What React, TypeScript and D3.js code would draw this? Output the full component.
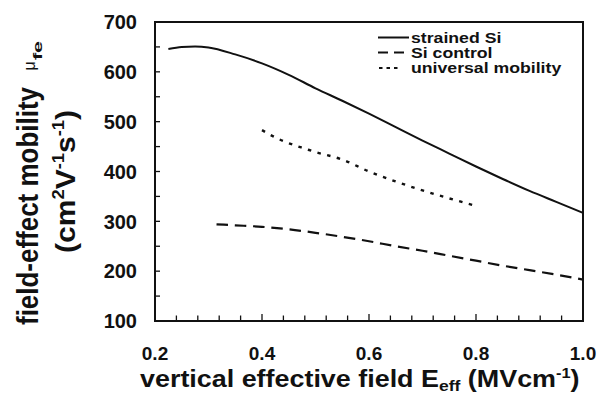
import React from "react";
import * as d3 from "d3";

// Vertical effective field (MV/cm) and field-effect mobility (cm^2/Vs)
const strainedSiField = [0.225, 0.25, 0.275, 0.3, 0.35, 0.4, 0.45, 0.5, 0.55, 0.6, 0.65, 0.7, 0.75, 0.8, 0.85, 0.9, 0.95, 1.0];
const strainedSiMobility = [646, 650, 651, 649, 635, 617, 594, 567, 542, 516, 489, 462, 436, 410, 385, 361, 339, 317];

const siControlField = [0.315, 0.35, 0.4, 0.45, 0.5, 0.55, 0.6, 0.65, 0.7, 0.75, 0.8, 0.85, 0.9, 0.95, 1.0];
const siControlMobility = [294, 292, 289, 284, 277, 269, 260, 250, 241, 231, 221, 211, 202, 193, 183];

const universalField = [0.4, 0.42, 0.44, 0.46, 0.48, 0.5, 0.55, 0.6, 0.65, 0.7, 0.75, 0.8];
const universalMobility = [483, 471, 461, 453, 446, 439, 424, 400, 380, 362, 346, 331];

const xTickLabels = ["0.2", "0.4", "0.6", "0.8", "1.0"];
const yTickLabels = ["100", "200", "300", "400", "500", "600", "700"];

const legendLabels = ["strained Si", "Si control", "universal mobility"];

const FONT = "'Liberation Sans', Arial, Helvetica, sans-serif";

export default function App() {
  const width = 602;
  const height = 405;
  const left = 155, right = 583, top = 22, bottom = 321;

  const x = d3.scaleLinear().domain([0.2, 1.0]).range([left, right]);
  const y = d3.scaleLinear().domain([100, 700]).range([bottom, top]);

  const line = d3
    .line<[number, number]>()
    .x((d) => x(d[0]))
    .y((d) => y(d[1]))
    .curve(d3.curveMonotoneX);

  const zip = (a: number[], b: number[]) => a.map((v, i) => [v, b[i]] as [number, number]);

  const xTicks = d3.range(0, 21).map((i) => 0.2 + i * 0.04);
  const yTicks = d3.range(100, 701, 50);

  const legendX0 = 378;
  const legendX1 = 409;
  const legendTextX = 411;
  const legendRows = [42.5, 57.8, 72.8];

  return (
    <svg
      width={width}
      height={height}
      style={{ position: "absolute", left: 0, top: 0, background: "#fff" }}
      fontFamily={FONT}
      fontWeight="bold"
    >
      <rect x={0} y={0} width={width} height={height} fill="#fff" />

      {/* tick marks, pointing into the plot */}
      {yTicks.map((t) => (
        <line key={"yt" + t} x1={left} x2={left + 5} y1={y(t)} y2={y(t)} stroke="#111" strokeWidth={1.3} />
      ))}
      {xTicks.map((t, i) => (
        <line
          key={"xt" + i}
          x1={x(t)}
          x2={x(t)}
          y1={bottom}
          y2={bottom - (i % 5 === 0 ? 7 : 5.5)}
          stroke="#111"
          strokeWidth={1.3}
        />
      ))}

      {/* data curves */}
      <path d={line(zip(strainedSiField, strainedSiMobility)) || ""} fill="none" stroke="#111" strokeWidth={2} />
      <path
        d={line(zip(siControlField, siControlMobility)) || ""}
        fill="none"
        stroke="#111"
        strokeWidth={2.2}
        strokeDasharray="11.5,6.8"
      />
      <path
        d={line(zip(universalField, universalMobility)) || ""}
        fill="none"
        stroke="#111"
        strokeWidth={2.4}
        strokeDasharray="3.5,6.5"
      />

      {/* frame */}
      <rect x={left} y={top} width={right - left} height={bottom - top} fill="none" stroke="#111" strokeWidth={2} />

      {/* y tick labels */}
      {yTickLabels.map((s) => (
        <text key={"yl" + s} x={137} y={y(+s)} dy="0.36em" textAnchor="end" fontSize={20} fill="#111">
          {s}
        </text>
      ))}
      {/* x tick labels */}
      {xTickLabels.map((s) => (
        <text key={"xl" + s} x={x(+s)} y={360} textAnchor="middle" fontSize={19} fill="#111">
          {s}
        </text>
      ))}

      {/* legend */}
      <line x1={legendX0} x2={legendX1} y1={37.5} y2={37.5} stroke="#111" strokeWidth={2} />
      <line x1={legendX0} x2={legendX1} y1={52.5} y2={52.5} stroke="#111" strokeWidth={2} strokeDasharray="10,6" />
      <line x1={legendX0 + 1} x2={legendX0 + 21} y1={68} y2={68} stroke="#111" strokeWidth={2.2} strokeDasharray="3.5,4" />
      {legendLabels.map((s, i) => (
        <g key={"lg" + i} transform={`translate(${legendTextX},${legendRows[i]}) scale(1.22,1)`}>
          <text x={0} y={0} fontSize={14.5} fill="#111">
            {s}
          </text>
        </g>
      ))}

      {/* x axis title */}
      <g transform="translate(140,386.5) scale(1.17,1)">
        <text x={0} y={0} fontSize={23} fill="#111">
          vertical effective field E
          <tspan fontSize={15} dy={4}>eff</tspan>
          <tspan dy={-4}> (MVcm</tspan>
          <tspan fontSize={14} dy={-9}>-1</tspan>
          <tspan dy={9}>)</tspan>
        </text>
      </g>

      {/* y axis title, two lines */}
      <text
        transform="translate(37.5,325) rotate(-90)"
        fontSize={30}
        fill="#111"
        textLength={238}
        lengthAdjust="spacingAndGlyphs"
      >
        field-effect mobility
      </text>
      <text transform="translate(35,70.5) rotate(-90)" fontSize={16} fill="#111" fontWeight="normal">
        μ
      </text>
      <text
        transform="translate(41.5,60) rotate(-90)"
        fontSize={13.5}
        fill="#111"
        textLength={19}
        lengthAdjust="spacingAndGlyphs"
      >
        fe
      </text>
      <text
        transform="translate(75,181.5) rotate(-90)"
        fontSize={28}
        fill="#111"
        textAnchor="middle"
        textLength={143}
        lengthAdjust="spacingAndGlyphs"
      >
        (cm
        <tspan fontSize={17} dy={-11}>2</tspan>
        <tspan dy={11}>V</tspan>
        <tspan fontSize={17} dy={-11}>-1</tspan>
        <tspan dy={11}>s</tspan>
        <tspan fontSize={17} dy={-11}>-1</tspan>
        <tspan dy={11}>)</tspan>
      </text>
    </svg>
  );
}
